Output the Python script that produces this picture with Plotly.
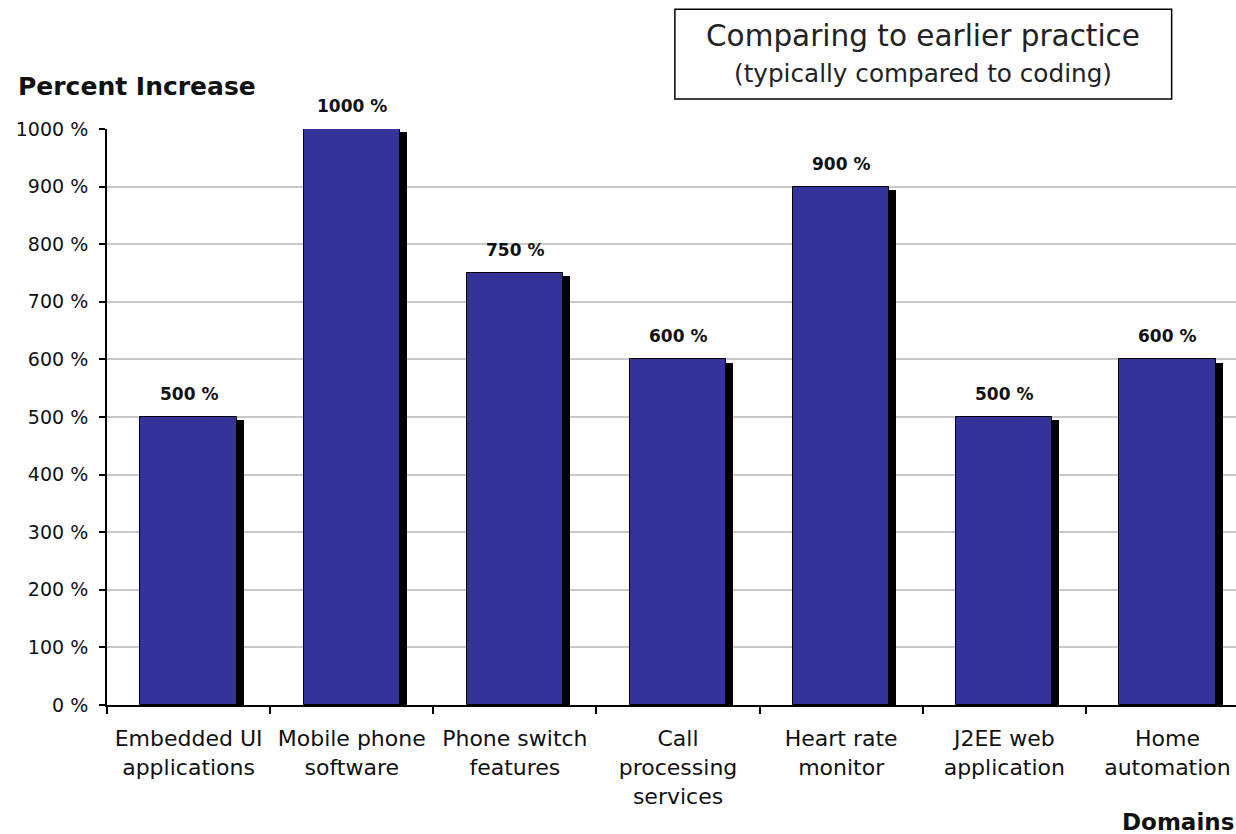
import plotly.graph_objects as go

categories = ["Embedded UI<br>applications", "Mobile phone<br>software", "Phone switch<br>features",
              "Call<br>processing<br>services", "Heart rate<br>monitor", "J2EE web<br>application",
              "Home<br>automation"]
values = [500, 1000, 750, 600, 900, 500, 600]
value_labels = ["500 %", "1000 %", "750 %", "600 %", "900 %", "500 %", "600 %"]
y_ticks = [0, 100, 200, 300, 400, 500, 600, 700, 800, 900, 1000]
y_tick_labels = ["0 %", "100 %", "200 %", "300 %", "400 %", "500 %", "600 %", "700 %",
                 "800 %", "900 %", "1000 %"]

FONT = "DejaVu Sans"
BAR_W = 0.59
SHADOW_DX = 0.043
SHADOW_DY = 6

fig = go.Figure()
fig.add_trace(go.Bar(
    x=categories, y=[v - SHADOW_DY for v in values],
    width=BAR_W, offset=-BAR_W / 2 + SHADOW_DX,
    marker=dict(color="black", line=dict(width=0)),
    hoverinfo="skip", showlegend=False,
))
fig.add_trace(go.Bar(
    x=categories, y=values,
    width=BAR_W, offset=-BAR_W / 2,
    marker=dict(color="#333399", line=dict(color="black", width=1)),
    showlegend=False,
))

for c, v, t in zip(categories, values, value_labels):
    fig.add_annotation(x=c, y=v, text=f"<b>{t}</b>", showarrow=False,
                       xanchor="center", yanchor="bottom", yshift=11,
                       font=dict(family=FONT, size=17, color="#111"))

fig.update_layout(
    width=1236, height=834, autosize=False,
    margin=dict(l=107, r=0, t=129, b=129),
    paper_bgcolor="white", plot_bgcolor="white",
    barmode="overlay", bargap=0,
    font=dict(family=FONT, color="#111"),
    xaxis=dict(type="category", range=[-0.5, 6.42], tickson="boundaries",
               ticks="outside", ticklen=7, tickcolor="black", tickwidth=2,
               showline=True, linecolor="black", linewidth=2, showgrid=False,
               tickfont=dict(family=FONT, size=22, color="#111"),
               ticklabelstandoff=13),
    yaxis=dict(range=[0, 1000], tickvals=y_ticks, ticktext=y_tick_labels,
               ticks="outside", ticklen=6, tickcolor="black", tickwidth=2,
               showline=True, linecolor="black", linewidth=2,
               showgrid=True, gridcolor="#c8c8c8", gridwidth=1.5, zeroline=False,
               tickfont=dict(family=FONT, size=19, color="#111"),
               ticklabelstandoff=7),
)

# title box
fig.add_shape(type="rect", xref="paper", yref="paper",
              x0=0.503, x1=0.943, y0=1.052, y1=1.208,
              line=dict(color="black", width=1.5), fillcolor="white")
fig.add_annotation(xref="paper", yref="paper", x=0.723, y=1.161,
                   xanchor="center", yanchor="middle",
                   text="Comparing to earlier practice", showarrow=False,
                   font=dict(family=FONT, size=29.5, color="#222"))
fig.add_annotation(xref="paper", yref="paper", x=0.723, y=1.097,
                   xanchor="center", yanchor="middle",
                   text="(typically compared to coding)", showarrow=False,
                   font=dict(family=FONT, size=24.7, color="#222"))

# axis titles
fig.add_annotation(xref="paper", yref="paper", x=-0.0806, y=1.073, xanchor="left", yanchor="middle",
                   text="<b>Percent Increase</b>", showarrow=False,
                   font=dict(family=FONT, size=25, color="#111"))
fig.add_annotation(xref="paper", yref="paper", x=0.897, y=-0.203, xanchor="left", yanchor="middle",
                   text="<b>Domains</b>", showarrow=False,
                   font=dict(family=FONT, size=23, color="#111"))

fig.write_html("out.html")
